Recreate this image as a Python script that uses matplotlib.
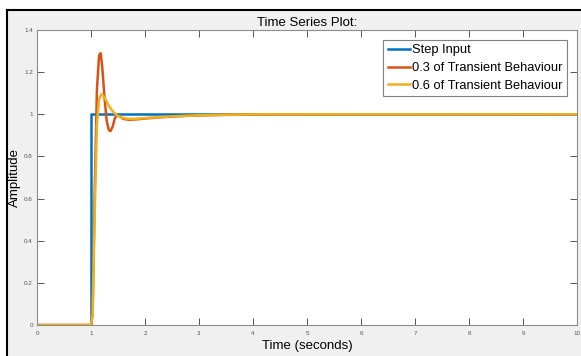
import matplotlib
matplotlib.use("Agg")
import matplotlib.pyplot as plt
from matplotlib.patches import Rectangle

plt.rcParams['font.family'] = ['Liberation Sans', 'DejaVu Sans']

# step input
t_step = [0, 1.0, 1.0, 10]
y_step = [0, 0, 1.0, 1.0]

# 0.3 of transient behaviour
t_03 = [0, 1.0, 1.03, 1.07, 1.11, 1.15, 1.18, 1.21, 1.25, 1.29, 1.33, 1.36, 1.40, 1.44,
        1.48, 1.53, 1.60, 1.70, 1.85, 2.0, 2.3, 2.7, 3.2, 4.0, 10]
y_03 = [0, 0, 0.05, 0.65, 1.12, 1.28, 1.29, 1.22, 1.08, 0.97, 0.925, 0.92, 0.94, 0.98,
        0.997, 0.99, 0.978, 0.974, 0.976, 0.98, 0.986, 0.992, 0.996, 0.999, 1.0]

# 0.6 of transient behaviour
t_06 = [0, 1.0, 1.03, 1.07, 1.11, 1.15, 1.19, 1.22, 1.27, 1.33, 1.40, 1.48, 1.56, 1.64,
        1.75, 1.9, 2.1, 2.5, 3.0, 3.5, 4.2, 10]
y_06 = [0, 0, 0.05, 0.55, 0.95, 1.07, 1.095, 1.09, 1.07, 1.04, 1.015, 0.995, 0.985, 0.98,
        0.978, 0.98, 0.984, 0.99, 0.995, 0.998, 1.0, 1.0]

fig = plt.figure(figsize=(5.81, 3.56), dpi=100, facecolor='white')
# screenshot frame: grey panel with black edge on top/left
fig.patches.append(Rectangle((7 / 581, 0), 1 - 7 / 581, 1 - 10 / 356, transform=fig.transFigure,
                             facecolor='#f0f0f0', edgecolor='none', zorder=-2))
fig.lines.append(plt.Line2D([7 / 581, 7 / 581], [0, 1 - 10 / 356], transform=fig.transFigure,
                            color='black', lw=1.5))
fig.lines.append(plt.Line2D([7 / 581, 1], [1 - 10 / 356, 1 - 10 / 356], transform=fig.transFigure,
                            color='black', lw=1.5))

ax = fig.add_axes([37 / 581, 1 - 325 / 356, 540 / 581, 295 / 356])
ax.set_facecolor('white')

ax.plot(t_step, y_step, color='#0072BD', lw=1.8, label='Step Input')
ax.plot(t_03, y_03, color='#D95319', lw=1.8, label='0.3 of Transient Behaviour')
ax.plot(t_06, y_06, color='#EDB120', lw=1.8, label='0.6 of Transient Behaviour')

ax.set_xlim(0, 10)
ax.set_ylim(0, 1.4)
ax.set_xticks(range(0, 11))
ax.set_yticks([0, 0.2, 0.4, 0.6, 0.8, 1, 1.2, 1.4])
ax.set_yticklabels(['0', '0.2', '0.4', '0.6', '0.8', '1', '1.2', '1.4'])
ax.tick_params(direction='in', length=5, width=0.7, top=True, right=True,
               labelsize=4.5, colors='#555555')
ax.tick_params(axis='x', pad=4)
ax.tick_params(axis='y', pad=3)
for s in ax.spines.values():
    s.set_color('#8c8c8c')
    s.set_linewidth(0.8)

ax.set_title('Time Series Plot:', fontsize=9.5, pad=3)
ax.set_xlabel('Time (seconds)', fontsize=9.5, labelpad=3)
ax.set_ylabel('Amplitude', fontsize=9.5, labelpad=2)

leg = ax.legend(loc='upper right', fontsize=9.3, fancybox=False, framealpha=1,
                edgecolor='#808080', handlelength=1.75, handletextpad=0.15,
                borderpad=0.35, labelspacing=0.45, borderaxespad=0.75)
leg.get_frame().set_linewidth(0.8)

fig.savefig('out.png', dpi=100, facecolor=fig.get_facecolor())
